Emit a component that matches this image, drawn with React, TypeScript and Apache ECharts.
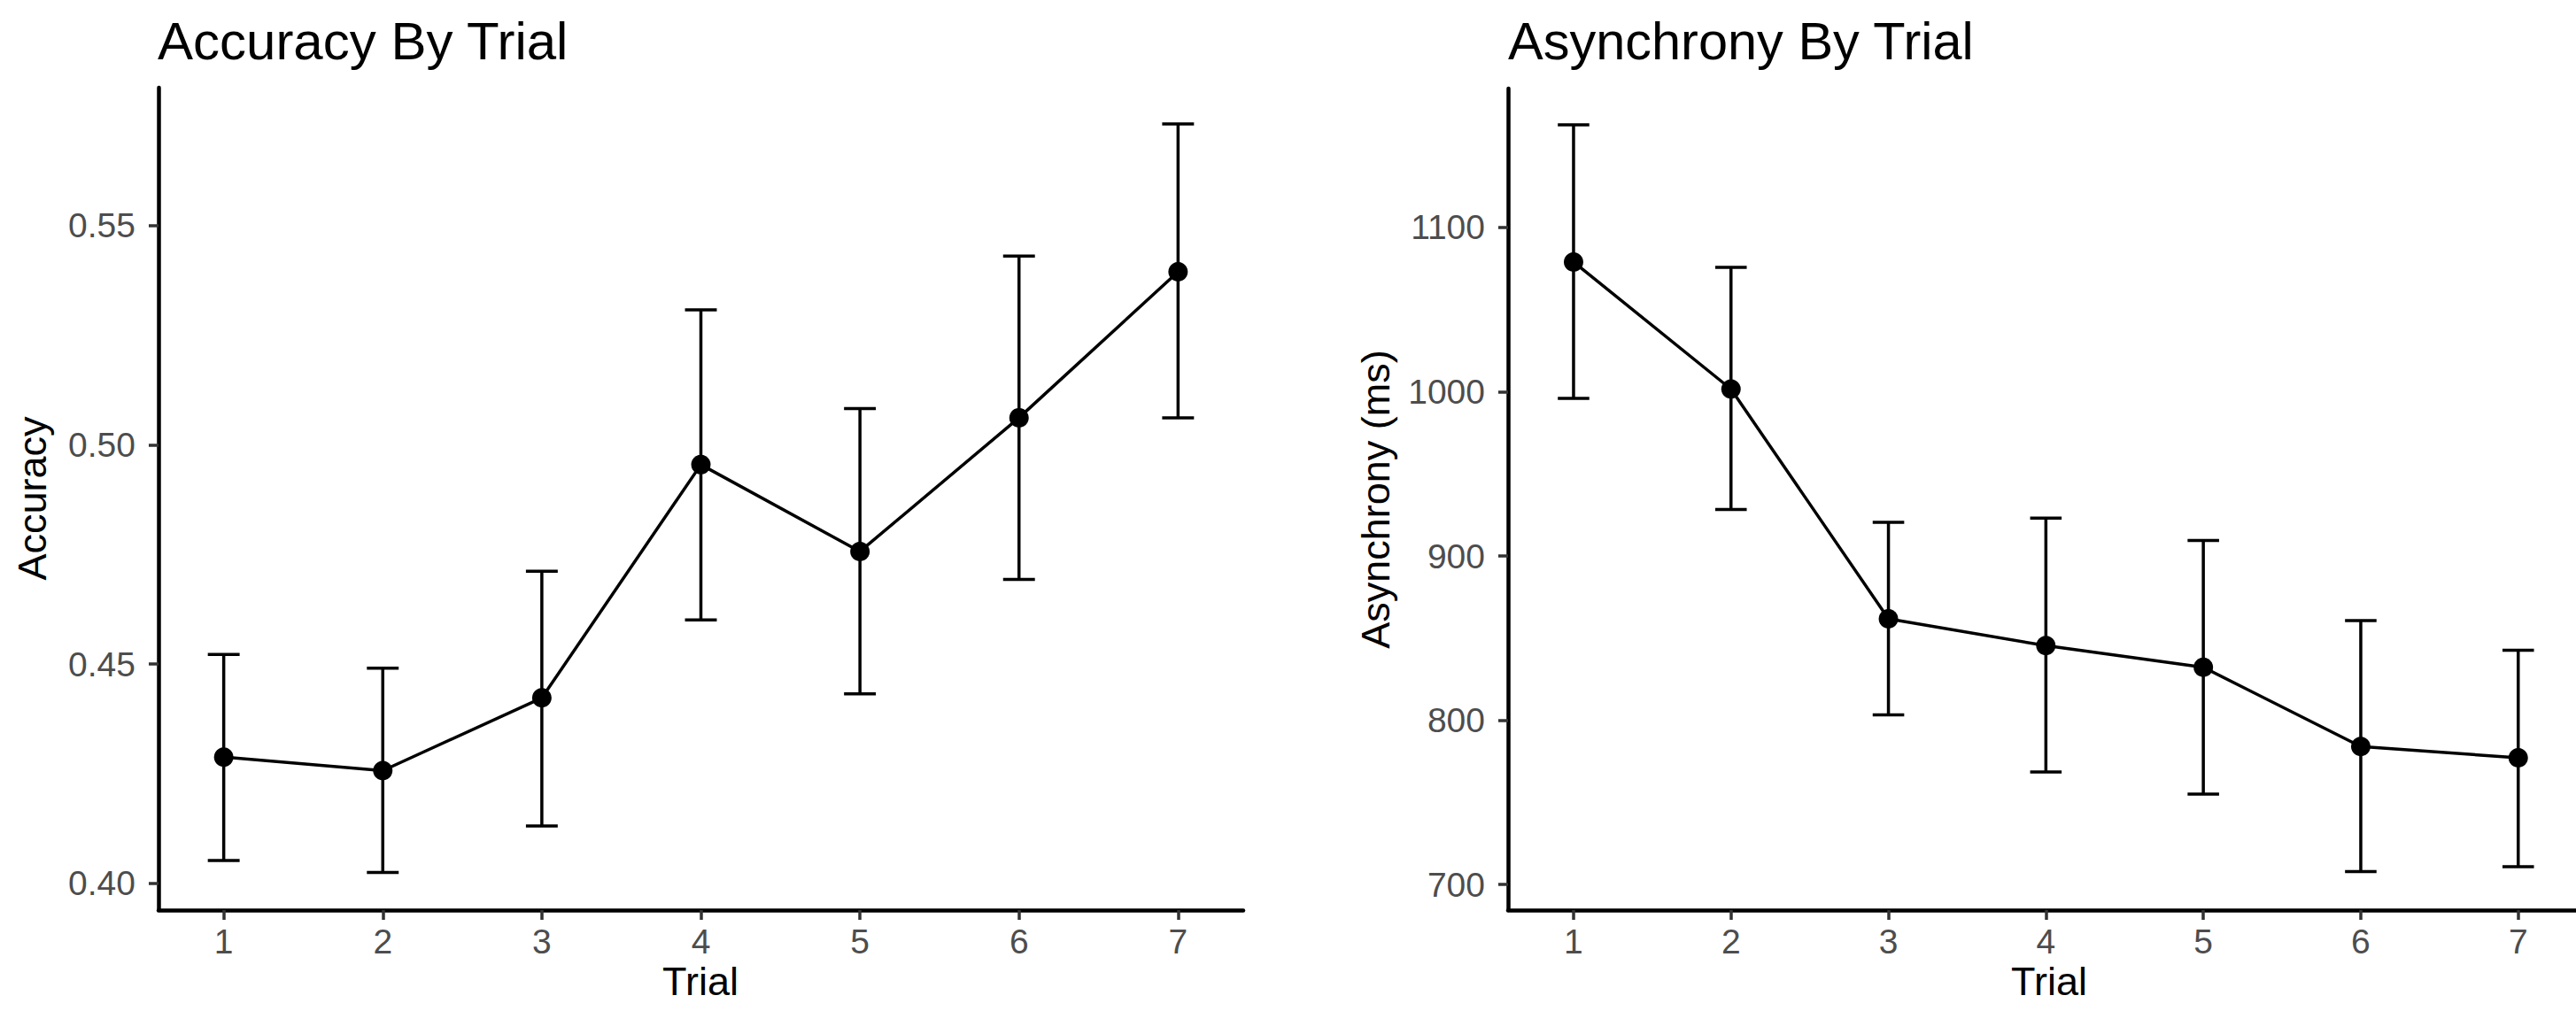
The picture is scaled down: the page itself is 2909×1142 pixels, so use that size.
import React, { useEffect, useRef } from "react";
import * as echarts from "echarts";

const trials = [1, 2, 3, 4, 5, 6, 7];
const accMean = [0.4288, 0.4257, 0.4423, 0.4955, 0.4757, 0.5062, 0.5395];
const accLow = [0.4052, 0.4025, 0.4131, 0.4601, 0.4432, 0.4693, 0.5062];
const accHigh = [0.4522, 0.4491, 0.4712, 0.5308, 0.5083, 0.5431, 0.5732];
const accTicks = [0.4, 0.45, 0.5, 0.55];

const asyMean = [1079, 1001.6, 861.7, 845.4, 832.2, 784, 777.1];
const asyLow = [996, 928.3, 803.2, 768.5, 755, 707.8, 710.8];
const asyHigh = [1162.5, 1075.7, 920.5, 923, 909.5, 860.6, 842.6];
const asyTicks = [700, 800, 900, 1000, 1100];

const FONT = "'Liberation Sans', Arial, Helvetica, sans-serif";

export default function App() {
  const ref = useRef<HTMLDivElement>(null);
  useEffect(() => {
    if (!ref.current) return;
    const chart = echarts.init(ref.current, undefined, { renderer: "svg" });

    const errRender = (params: any, api: any) => {
      const x = api.value(0);
      const lo = api.value(1);
      const hi = api.value(2);
      const pLo = api.coord([x, lo]);
      const pHi = api.coord([x, hi]);
      const half = api.size([0.2, 0])[0] / 2;
      const style = { stroke: "#000", lineWidth: 3.5 };
      return {
        type: "group",
        children: [
          { type: "line", shape: { x1: pLo[0], y1: pLo[1], x2: pHi[0], y2: pHi[1] }, style },
          { type: "line", shape: { x1: pLo[0] - half, y1: pLo[1], x2: pLo[0] + half, y2: pLo[1] }, style },
          { type: "line", shape: { x1: pHi[0] - half, y1: pHi[1], x2: pHi[0] + half, y2: pHi[1] }, style },
        ],
      };
    };

    const xAxisCfg = (gridIndex: number, min: number, max: number) => ({
      type: "value",
      gridIndex,
      min,
      max,
      axisLine: { show: true, onZero: false, lineStyle: { color: "#000", width: 4.5 } },
      axisTick: { show: true, customValues: trials, length: 11, lineStyle: { color: "#333333", width: 3.5 } },
      axisLabel: { customValues: trials, margin: 16, color: "#4D4D4D", fontSize: 39, fontFamily: FONT },
      splitLine: { show: false },
    });

    const yAxisCfg = (gridIndex: number, min: number, max: number, ticks: number[], fmt: (v: number) => string) => ({
      type: "value",
      gridIndex,
      min,
      max,
      axisLine: { show: true, onZero: false, lineStyle: { color: "#000", width: 4.5 } },
      axisTick: { show: true, customValues: ticks, length: 11, lineStyle: { color: "#333333", width: 3.5 } },
      axisLabel: { customValues: ticks, margin: 26, color: "#4D4D4D", fontSize: 39, fontFamily: FONT, formatter: fmt },
      splitLine: { show: false },
    });

    chart.setOption({
      animation: false,
      backgroundColor: "#ffffff",
      grid: [
        { left: 179, width: 1225, top: 99, bottom: 114 },
        { left: 1703, right: 0, top: 100, bottom: 114 },
      ],
      xAxis: [xAxisCfg(0, 0.59, 7.41), xAxisCfg(1, 0.584, 7.367)],
      yAxis: [
        yAxisCfg(0, 0.3939, 0.5815, accTicks, (v: number) => v.toFixed(2)),
        yAxisCfg(1, 684.4, 1184.6, asyTicks, (v: number) => String(Math.round(v))),
      ],
      series: [
        {
          type: "custom",
          xAxisIndex: 0,
          yAxisIndex: 0,
          renderItem: errRender,
          data: trials.map((t, i) => [t, accLow[i], accHigh[i]]),
          z: 2,
        },
        {
          type: "line",
          xAxisIndex: 0,
          yAxisIndex: 0,
          data: trials.map((t, i) => [t, accMean[i]]),
          symbol: "circle",
          symbolSize: 22,
          itemStyle: { color: "#000" },
          lineStyle: { color: "#000", width: 3.5 },
          z: 3,
        },
        {
          type: "custom",
          xAxisIndex: 1,
          yAxisIndex: 1,
          renderItem: errRender,
          data: trials.map((t, i) => [t, asyLow[i], asyHigh[i]]),
          z: 2,
        },
        {
          type: "line",
          xAxisIndex: 1,
          yAxisIndex: 1,
          data: trials.map((t, i) => [t, asyMean[i]]),
          symbol: "circle",
          symbolSize: 22,
          itemStyle: { color: "#000" },
          lineStyle: { color: "#000", width: 3.5 },
          z: 3,
        },
      ],
      graphic: [
        {
          type: "text",
          x: 178,
          y: 46,
          style: { text: "Accuracy By Trial", fontSize: 60, fontFamily: FONT, fill: "#000", align: "left", verticalAlign: "middle" },
        },
        {
          type: "text",
          x: 1703,
          y: 46,
          style: { text: "Asynchrony By Trial", fontSize: 59.5, fontFamily: FONT, fill: "#000", align: "left", verticalAlign: "middle" },
        },
        {
          type: "text",
          x: 36,
          y: 563,
          rotation: Math.PI / 2,
          style: { text: "Accuracy", fontSize: 45, fontFamily: FONT, fill: "#000", align: "center", verticalAlign: "middle" },
        },
        {
          type: "text",
          x: 1553,
          y: 564,
          rotation: Math.PI / 2,
          style: { text: "Asynchrony (ms)", fontSize: 45, fontFamily: FONT, fill: "#000", align: "center", verticalAlign: "middle" },
        },
        {
          type: "text",
          x: 791,
          y: 1108,
          style: { text: "Trial", fontSize: 45, fontFamily: FONT, fill: "#000", align: "center", verticalAlign: "middle" },
        },
        {
          type: "text",
          x: 2314,
          y: 1108,
          style: { text: "Trial", fontSize: 45, fontFamily: FONT, fill: "#000", align: "center", verticalAlign: "middle" },
        },
      ],
    });
    return () => chart.dispose();
  }, []);
  return (
    <div
      ref={ref}
      style={{ position: "fixed", left: 0, top: 0, width: 2909, height: 1142, background: "#fff" }}
    />
  );
}
